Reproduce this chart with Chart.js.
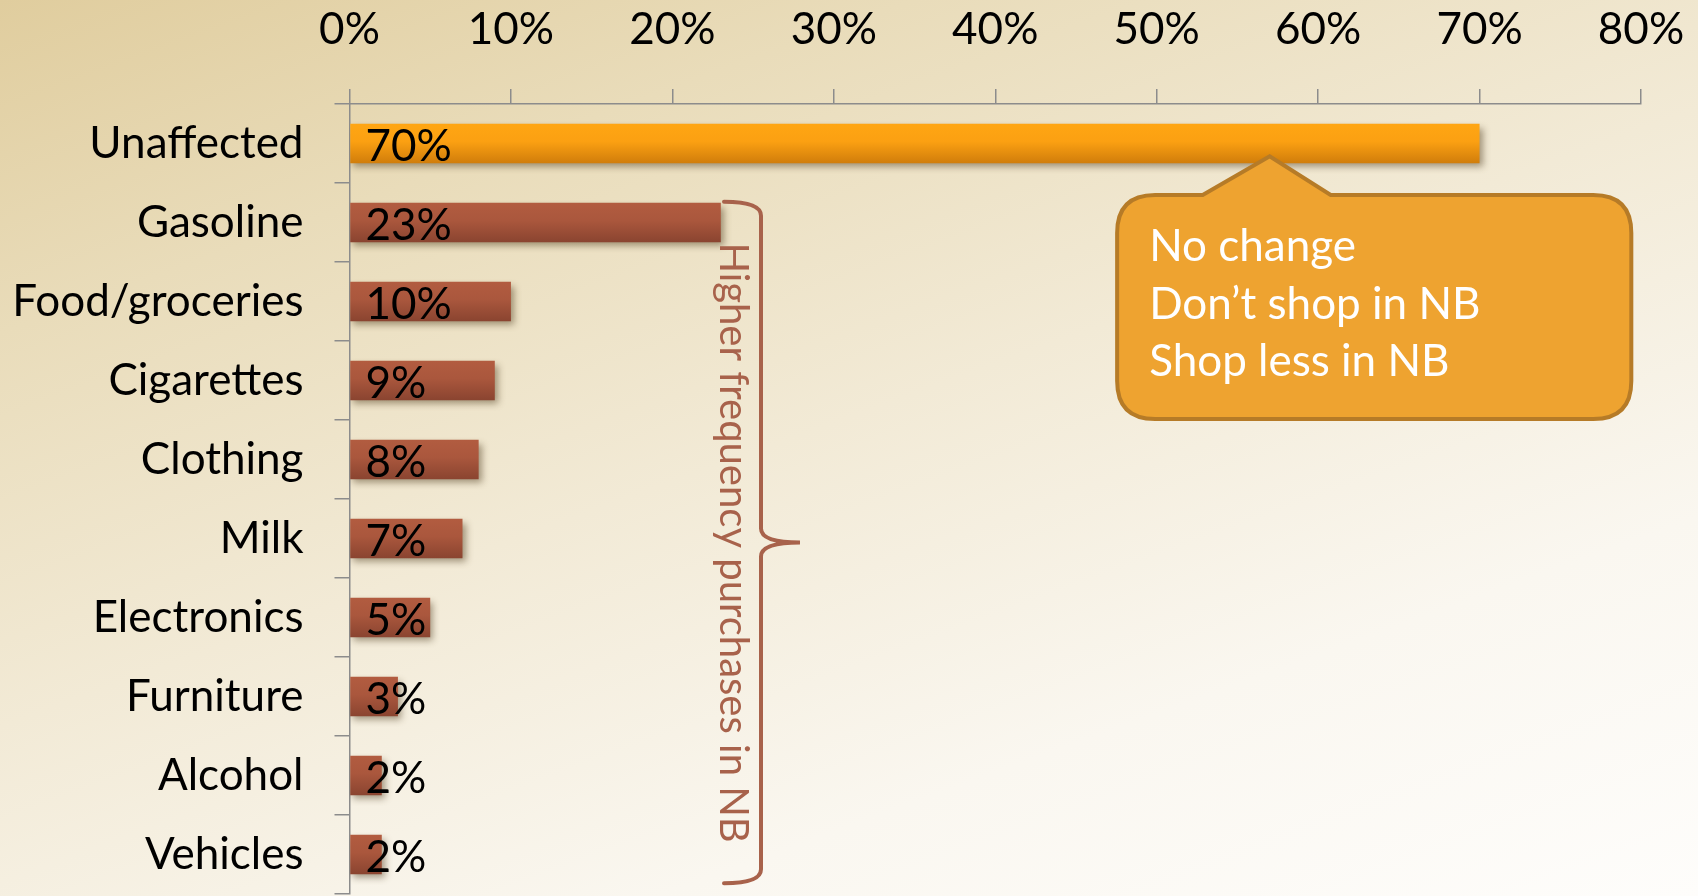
<!DOCTYPE html>
<html>
<head>
<meta charset="utf-8">
<script src="https://cdn.jsdelivr.net/npm/chart.js@4"></script>
<style>
  html, body { margin: 0; padding: 0; width: 1698px; height: 896px; overflow: hidden; }
  body { background: linear-gradient(160deg, #E0CD9E 0%, #E9DCBA 22%, #F2EAD6 48%, #FAF7F0 75%, #FEFDFB 100%); }
  #wrap { position: relative; width: 1698px; height: 896px; }
  canvas { display: block; }
</style>
</head>
<body>
<div id="wrap"><canvas id="c" width="1698" height="896"></canvas></div>
<script>
const categories = ["Unaffected", "Gasoline", "Food/groceries", "Cigarettes", "Clothing", "Milk", "Electronics", "Furniture", "Alcohol", "Vehicles"];
const shares = [0.70, 0.23, 0.10, 0.09, 0.08, 0.07, 0.05, 0.03, 0.02, 0.02];
const valueLabels = ["70%", "23%", "10%", "9%", "8%", "7%", "5%", "3%", "2%", "2%"];
const tickValues = [0, 0.1, 0.2, 0.3, 0.4, 0.5, 0.6, 0.7, 0.8];
const tickLabels = ["0%", "10%", "20%", "30%", "40%", "50%", "60%", "70%", "80%"];
const calloutLines = ["No change", "Don\u2019t shop in NB", "Shop less in NB"];
const braceText = "Higher frequency purchases in NB";

const FONT = "Lato";
const FSIZE = 44;
const BAR_FRAC = 0.5;

function barGradient(ctx) {
  const chart = ctx.chart;
  const i = ctx.dataIndex;
  const orange = i === 0;
  const top = orange ? "#FFA613" : "#B25C40";
  const bot = orange ? "#D07D0B" : "#8A4430";
  if (!chart.chartArea || !chart.scales.y) return top;
  const y = chart.scales.y;
  const c = y.getPixelForValue(i);
  const h = (y.height / categories.length) * BAR_FRAC;
  const g = chart.ctx.createLinearGradient(0, c - h / 2, 0, c + h / 2);
  g.addColorStop(0, top);
  g.addColorStop(0.45, orange ? "#FBA012" : "#AA573D");
  g.addColorStop(1, bot);
  return g;
}

function noPad(scale) {
  scale.paddingTop = 0; scale.paddingBottom = 0;
  scale.paddingLeft = 0; scale.paddingRight = 0;
}

const shadowPlugin = {
  id: "barShadow",
  beforeDatasetsDraw(chart) {
    const ctx = chart.ctx;
    ctx.save();
    ctx.shadowColor = "rgba(60,40,10,0.45)";
    ctx.shadowBlur = 7;
    ctx.shadowOffsetX = 3;
    ctx.shadowOffsetY = 4;
  },
  afterDatasetsDraw(chart) {
    chart.ctx.restore();
  }
};

const labelPlugin = {
  id: "valueLabels",
  afterDatasetsDraw(chart) {
    const ctx = chart.ctx;
    const meta = chart.getDatasetMeta(0);
    const x0 = chart.scales.x.getPixelForValue(0);
    ctx.save();
    ctx.font = FSIZE + "px " + FONT;
    ctx.fillStyle = "#000";
    ctx.textAlign = "left";
    ctx.textBaseline = "alphabetic";
    meta.data.forEach((bar, i) => {
      ctx.fillText(valueLabels[i], x0 + 16, bar.y + 17);
    });
    ctx.restore();
  }
};

const annotationPlugin = {
  id: "annotations",
  afterDraw(chart) {
    const ctx = chart.ctx;
    const xs = chart.scales.x, ys = chart.scales.y;
    const bar0 = chart.getDatasetMeta(0).data[0];
    const row = ys.height / categories.length;

    // ---- callout ----
    const apexX = xs.getPixelForValue(0.57);
    const apexY = bar0.y + bar0.height / 2 - 7;
    const L = xs.getPixelForValue(0.4755), R = xs.getPixelForValue(0.794);
    const T = ys.getPixelForValue(1) - row / 2 + 12;
    const B = T + 224;
    const r = 38;
    const pL = apexX - 67, pR = apexX + 61;
    ctx.save();
    ctx.beginPath();
    ctx.moveTo(L + r, T);
    ctx.lineTo(pL, T);
    ctx.lineTo(apexX, apexY);
    ctx.lineTo(pR, T);
    ctx.lineTo(R - r, T);
    ctx.quadraticCurveTo(R, T, R, T + r);
    ctx.lineTo(R, B - r);
    ctx.quadraticCurveTo(R, B, R - r, B);
    ctx.lineTo(L + r, B);
    ctx.quadraticCurveTo(L, B, L, B - r);
    ctx.lineTo(L, T + r);
    ctx.quadraticCurveTo(L, T, L + r, T);
    ctx.closePath();
    ctx.fillStyle = "#EEA330";
    ctx.fill();
    ctx.lineWidth = 4;
    ctx.strokeStyle = "#B67B27";
    ctx.lineJoin = "miter";
    ctx.stroke();
    ctx.fillStyle = "#FFFFFF";
    ctx.font = FSIZE + "px " + FONT;
    ctx.textAlign = "left";
    ctx.textBaseline = "alphabetic";
    calloutLines.forEach((s, k) => ctx.fillText(s, L + 32, T + 66 + k * 57.5));
    ctx.restore();

    // ---- brace ----
    const bx = 761, tipX = 800;
    const bTop = ys.getPixelForValue(1) - row * BAR_FRAC / 2 - 1;
    const bBot = ys.getPixelForValue(9) + row * BAR_FRAC / 2 + 9;
    const mid = (bTop + bBot) / 2;
    const leftX = 724;
    ctx.save();
    ctx.strokeStyle = "#A8624B";
    ctx.lineWidth = 4;
    ctx.lineCap = "round";
    ctx.beginPath();
    ctx.moveTo(leftX, bTop);
    ctx.quadraticCurveTo(bx, bTop, bx, bTop + 14);
    ctx.lineTo(bx, mid - 14);
    ctx.quadraticCurveTo(bx, mid, tipX, mid);
    ctx.quadraticCurveTo(bx, mid, bx, mid + 14);
    ctx.lineTo(bx, bBot - 14);
    ctx.quadraticCurveTo(bx, bBot, leftX, bBot);
    ctx.stroke();
    // rotated text
    ctx.translate(733, mid);
    ctx.rotate(Math.PI / 2);
    ctx.fillStyle = "#A8624B";
    ctx.font = "40px " + FONT;
    ctx.textAlign = "center";
    ctx.textBaseline = "middle";
    ctx.fillText(braceText, 0, 0);
    ctx.restore();
  }
};

new Chart(document.getElementById("c"), {
  type: "bar",
  data: {
    labels: categories,
    datasets: [{
      data: shares,
      backgroundColor: barGradient,
      borderWidth: 0,
      categoryPercentage: 1,
      barPercentage: BAR_FRAC
    }]
  },
  plugins: [shadowPlugin, labelPlugin, annotationPlugin],
  options: {
    indexAxis: "y",
    responsive: false,
    animation: false,
    events: [],
    layout: { padding: { left: 0, right: 57, top: 0, bottom: 2 } },
    plugins: { legend: { display: false }, tooltip: { enabled: false } },
    scales: {
      x: {
        position: "top",
        min: 0, max: 0.8,
        afterBuildTicks(scale) { scale.ticks = tickValues.map(v => ({ value: v })); },
        afterFit(scale) { scale.height = 104; noPad(scale); },
        ticks: {
          callback: (v, i) => tickLabels[i],
          font: { family: FONT, size: FSIZE },
          color: "#000",
          padding: 33,
          maxRotation: 0
        },
        grid: { drawOnChartArea: false, tickLength: 15, color: "#8C8C8C", lineWidth: 1.5 },
        border: { color: "#8C8C8C", width: 1.5 }
      },
      y: {
        afterFit(scale) { scale.width = 349.5; noPad(scale); },
        ticks: {
          font: { family: FONT, size: FSIZE },
          color: "#000",
          padding: 31
        },
        grid: { drawOnChartArea: false, tickLength: 15, color: "#8C8C8C", lineWidth: 1.5, offset: true },
        border: { color: "#8C8C8C", width: 1.5 }
      }
    }
  }
});
</script>
</body>
</html>
